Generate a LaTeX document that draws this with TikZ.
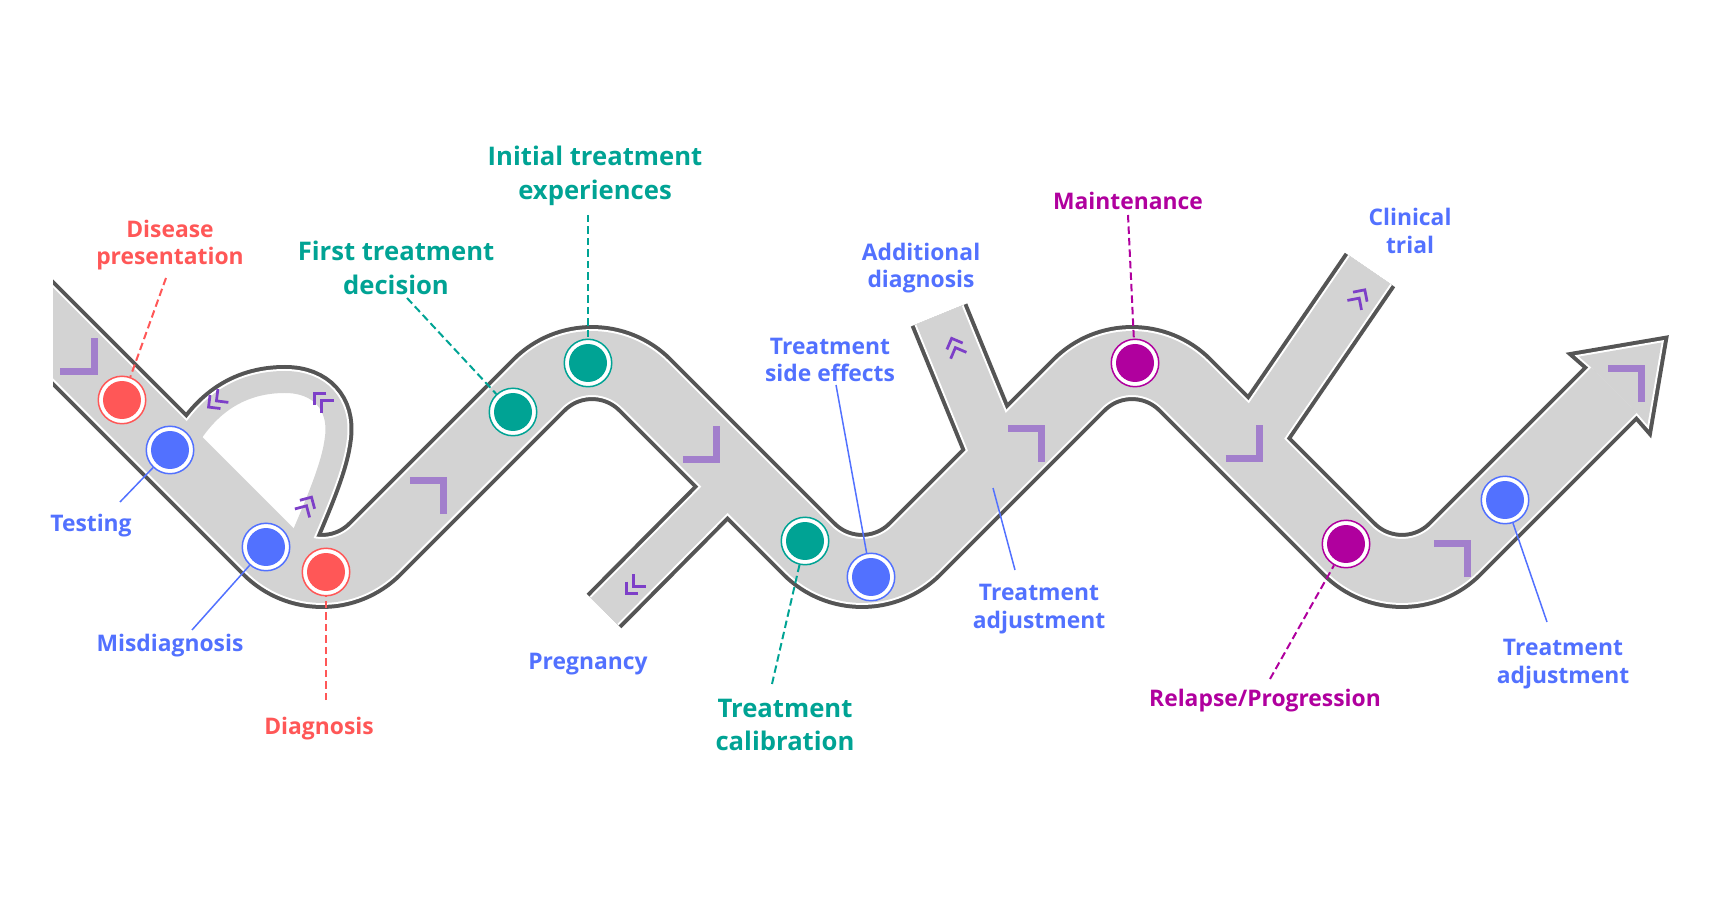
\documentclass[tikz,border=0pt]{standalone}
\usepackage{fontspec}
\setmainfont{Open Sans}
\definecolor{cred}{HTML}{FF5757}
\definecolor{cblue}{HTML}{5271FF}
\definecolor{cteal}{HTML}{00A394}
\definecolor{cmag}{HTML}{B0009E}
\definecolor{croad}{HTML}{D3D3D3}
\definecolor{cedge}{HTML}{555555}
\definecolor{cchev}{HTML}{A27FCC}
\definecolor{cchevs}{HTML}{7D3FC8}
\newcommand\mainpath{(0,280) -- (322,602) -- (592,332) -- (862,602) -- (1132,332) -- (1402,602) -- (1614,390)}
\newcommand\looppath{(178,458) .. controls (205,400) and (245,382) .. (285,382) .. controls (320,382) and (340,405) .. (336,437) .. controls (333,465) and (318,500) .. (292,560)}
\newcommand\headopen{(1586,374) -- (1592,368) -- (1579,356.6) -- (1661.5,342.5) -- (1647.4,425) -- (1636,412) -- (1630,418)}
\newcommand\headpoly{(1592,368) -- (1579,356.6) -- (1661.5,342.5) -- (1647.4,425) -- (1636,412) -- cycle}
\newcommand\bigchev[3]{\draw[bchev, shift={(#1,#2)}, rotate=#3] (-23.7,23.7) -- (0,0) -- (-23.7,-23.7);}
\newcommand\smallchev[3]{\begin{scope}[shift={(#1,#2)}, rotate=#3]
  \draw[schev] (-3.5,8.5) -- (5,0) -- (-3.5,-8.5);
  \draw[schev] (-13.5,8.5) -- (-5,0) -- (-13.5,-8.5);
\end{scope}}
\begin{document}
\begin{tikzpicture}[x=0.02cm, y=-0.02cm,
  bchev/.style={cchev, line width=0.14cm, miter limit=4},
  schev/.style={cchevs, line width=0.055cm, miter limit=4},
  mk/.style={circle, draw=#1, fill=white, line width=0.03cm, minimum size=0.95cm, inner sep=0pt,
    path picture={\fill[#1] (path picture bounding box.center) circle (0.38cm);}},
  lbl/.style={font=\bfseries\fontsize{13}{15.5}\selectfont, align=center, inner sep=0pt},
  tlbl/.style={font=\bfseries\fontsize{14.6}{19.3}\selectfont, align=center, inner sep=0pt},
  ldash/.style={line width=0.04cm, dash pattern=on 0.15cm off 0.08cm},
  lsolid/.style={line width=0.03cm}]
\useasboundingbox (0,0) rectangle (1717,911);
% ---- road: dark layer
\draw[cedge, line width=1.52cm, rounded corners=1.5cm] \mainpath;
\draw[cedge, line width=0.98cm] (737,477) -- (604,611);
\draw[cedge, line width=1.22cm] (1000,464) -- (939,315);
\draw[cedge, line width=1.22cm] (1248,448) -- (1370,270);
\draw[cedge, line width=0.68cm] \looppath;
\draw[cedge, line width=0.24cm, miter limit=10] \headopen;
% ---- road: white layer
\draw[white, line width=1.36cm, rounded corners=1.5cm] \mainpath;
\draw[white, line width=0.82cm] (737,477) -- (604,611);
\draw[white, line width=1.06cm] (1000,464) -- (939,315);
\draw[white, line width=1.06cm] (1248,448) -- (1370,270);
\draw[white, line width=0.52cm] \looppath;
\draw[white, line width=0.08cm, miter limit=10] \headopen;
% ---- hole of the loop
\fill[white] \looppath -- cycle;
% ---- road: gray layer
\draw[croad, line width=1.28cm, rounded corners=1.5cm] \mainpath;
\draw[croad, line width=0.74cm] (737,477) -- (604,611);
\draw[croad, line width=0.98cm] (1000,464) -- (939,315);
\draw[croad, line width=0.98cm] (1248,448) -- (1370,270);
\draw[croad, line width=0.44cm] \looppath;
\fill[croad] \headpoly;
% ---- cut at the left edge
\fill[white] (0,0) rectangle (53,911);
% ---- big chevrons
\bigchev{94}{372}{-45}
\bigchev{443.5}{480.5}{45}
\bigchev{716.5}{459.5}{-45}
\bigchev{1041.5}{428.5}{45}
\bigchev{1259.5}{458.5}{-45}
\bigchev{1467.5}{543.5}{45}
\bigchev{1641.5}{368.5}{45}
% ---- small double chevrons
\smallchev{212.5}{404}{218}
\smallchev{318}{397}{135}
\smallchev{309}{501.5}{60}
\smallchev{630}{590}{225}
\smallchev{953.5}{343}{112}
\smallchev{1362}{294}{56}
% ---- markers
\node[mk=cred] (c1) at (122,400) {};
\node[mk=cblue] (c2) at (170,450) {};
\node[mk=cblue] (c3) at (266,547) {};
\node[mk=cred] (c4) at (326,572) {};
\node[mk=cteal] (c5) at (513,412) {};
\node[mk=cteal] (c6) at (588,363) {};
\node[mk=cteal] (c7) at (805,541) {};
\node[mk=cblue] (c8) at (871,577) {};
\node[mk=cmag] (c9) at (1135,363) {};
\node[mk=cmag] (c10) at (1346,544) {};
\node[mk=cblue] (c11) at (1505,500) {};
% ---- labels
\node[lbl, text=cred] (t1) at (170,245) {Disease\\presentation};
\node[lbl, text=cblue] (t2) at (91,526) {Testing};
\node[lbl, text=cblue] (t3) at (170,646) {Misdiagnosis};
\node[lbl, text=cred] (t4) at (319,729) {Diagnosis};
\node[tlbl, text=cteal] (t5) at (396,268) {First treatment\\decision};
\node[tlbl, text=cteal] (t6) at (595,176) {Initial treatment\\experiences};
\node[tlbl, text=cteal] (t7) at (785,725) {Treatment\\calibration};
\node[lbl, text=cblue] (t8) at (830,360) {Treatment\\side effects};
\node[lbl, text=cblue] (t9) at (921,268) {Additional\\diagnosis};
\node[lbl, text=cblue] (t10) at (1039,609) {Treatment\\adjustment};
\node[lbl, text=cmag] (t11) at (1128,201) {Maintenance};
\node[lbl, text=cblue] (t12) at (1410,231) {Clinical\\trial};
\node[lbl, text=cmag] (t13) at (1265,701) {Relapse/Progression};
\node[lbl, text=cblue] (t14) at (1563,664) {Treatment\\adjustment};
\node[lbl, text=cblue] (t15) at (588,664) {Pregnancy};
% ---- leader ends
\coordinate (e1) at (166,278);
\coordinate (e2) at (120,502);
\coordinate (e3) at (192,630);
\coordinate (e4) at (326,700);
\coordinate (e5) at (407,298);
\coordinate (e6) at (588,215);
\coordinate (e7) at (772,684);
\coordinate (e8) at (836,385);
\coordinate (e9a) at (993,488);
\coordinate (e9b) at (1015,570);
\coordinate (e10) at (1128,215);
\coordinate (e11) at (1270,679);
\coordinate (e12) at (1547,622);
% ---- leaders
\draw[ldash, cred] (e1) -- (c1);
\draw[lsolid, cblue] (e2) -- (c2);
\draw[lsolid, cblue] (e3) -- (c3);
\draw[ldash, cred] (e4) -- (c4);
\draw[ldash, cteal] (e5) -- (c5);
\draw[ldash, cteal] (e6) -- (c6);
\draw[ldash, cteal] (e7) -- (c7);
\draw[lsolid, cblue] (e8) -- (c8);
\draw[lsolid, cblue] (e9a) -- (e9b);
\draw[ldash, cmag] (e10) -- (c9);
\draw[ldash, cmag] (e11) -- (c10);
\draw[lsolid, cblue] (e12) -- (c11);
\end{tikzpicture}
\end{document}
